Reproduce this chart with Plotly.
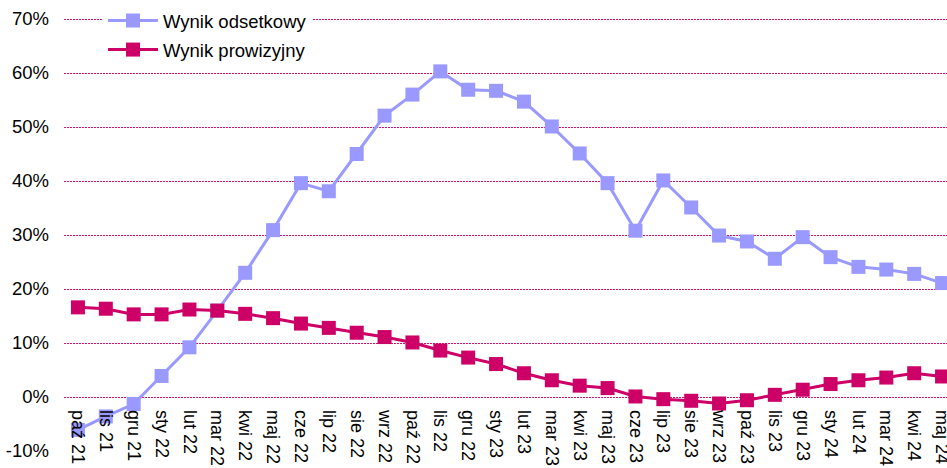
import plotly.graph_objects as go

categories = ["paź 21", "lis 21", "gru 21",
              "sty 22", "lut 22", "mar 22", "kwi 22", "maj 22", "cze 22",
              "lip 22", "sie 22", "wrz 22", "paź 22", "lis 22", "gru 22",
              "sty 23", "lut 23", "mar 23", "kwi 23", "maj 23", "cze 23",
              "lip 23", "sie 23", "wrz 23", "paź 23", "lis 23", "gru 23",
              "sty 24", "lut 24", "mar 24", "kwi 24", "maj 24"]

wynik_odsetkowy = [-6.1, -3.6, -1.3,
                   3.9, 9.2, 16.0, 23.0, 30.9, 39.6,
                   38.1, 45.0, 52.1, 56.0, 60.3, 56.9,
                   56.7, 54.7, 50.1, 45.1, 39.6, 30.8,
                   40.1, 35.1, 29.9, 28.8, 25.6, 29.6,
                   25.9, 24.1, 23.6, 22.8, 21.1]

wynik_prowizyjny = [16.6, 16.35, 15.3,
                    15.3, 16.2, 16.0, 15.4, 14.6, 13.6,
                    12.8, 11.9, 11.1, 10.1, 8.6, 7.3,
                    6.1, 4.4, 3.1, 2.1, 1.65, 0.1,
                    -0.4, -0.7, -1.2, -0.6, 0.4, 1.35,
                    2.4, 3.1, 3.6, 4.4, 3.8]

y_ticks = [-10, 0, 10, 20, 30, 40, 50, 60, 70]
y_tick_labels = ["-10%", "0%", "10%", "20%", "30%", "40%", "50%", "60%", "70%"]

BLUE = "#9999FF"
MAGENTA = "#CC0066"
GRID = "#D6106F"
FONT = "Liberation Sans, Arial, sans-serif"

fig = go.Figure()
fig.add_trace(go.Scatter(
    x=categories, y=wynik_odsetkowy, name="Wynik odsetkowy",
    mode="lines+markers", legendgroup="a",
    line=dict(color=BLUE, width=3),
    marker=dict(symbol="square", size=14, color=BLUE),
))
fig.add_trace(go.Scatter(
    x=categories, y=wynik_prowizyjny, name="Wynik prowizyjny",
    mode="lines+markers", legendgroup="b",
    line=dict(color=MAGENTA, width=3),
    marker=dict(symbol="square", size=14, color=MAGENTA),
))

W, H = 947, 468
ml, mt, mb = 64, 5, 17
plot_h = H - mt - mb
px_per_unit = 5.4
y_top = 70 + (19 - mt) / px_per_unit
y_bottom = -10
n = len(categories)
plot_w = W - ml
step = 892 / n
right = -0.5 + plot_w / step

fig.update_layout(
    width=W, height=H,
    margin=dict(l=ml, r=0, t=mt, b=mb, pad=0, autoexpand=False),
    paper_bgcolor="white", plot_bgcolor="white",
    font=dict(family=FONT, size=18, color="#000000"),
    showlegend=True,
    legend=dict(
        x=(103 - ml) / plot_w, y=1 + 3 / plot_h,
        xanchor="left", yanchor="top",
        bgcolor="white", borderwidth=0,
        itemwidth=50, tracegroupgap=2,
        traceorder="grouped",
        font=dict(family=FONT, size=18.5, color="#000000"),
    ),
    xaxis=dict(
        type="category", range=[-0.5, right],
        anchor="free", position=(0 - y_bottom) / (y_top - y_bottom),
        showgrid=False, showline=False, zeroline=False,
        ticks="", tickangle=90, automargin=False,
        tickfont=dict(family=FONT, size=18, color="#000000"),
        ticklabelstandoff=12,
    ),
    yaxis=dict(
        range=[y_bottom, y_top], tickvals=y_ticks, ticktext=y_tick_labels,
        showgrid=True, gridcolor=GRID, gridwidth=1, griddash="2px,1px",
        zeroline=False, showline=False, ticks="", automargin=False,
        tickfont=dict(family=FONT, size=18.5, color="#000000"),
        ticklabelstandoff=14,
    ),
)

fig.write_html(
    "out.html",
    config={"displayModeBar": False},
    post_script="document.body.style.margin='0';document.body.style.overflow='hidden';",
)
